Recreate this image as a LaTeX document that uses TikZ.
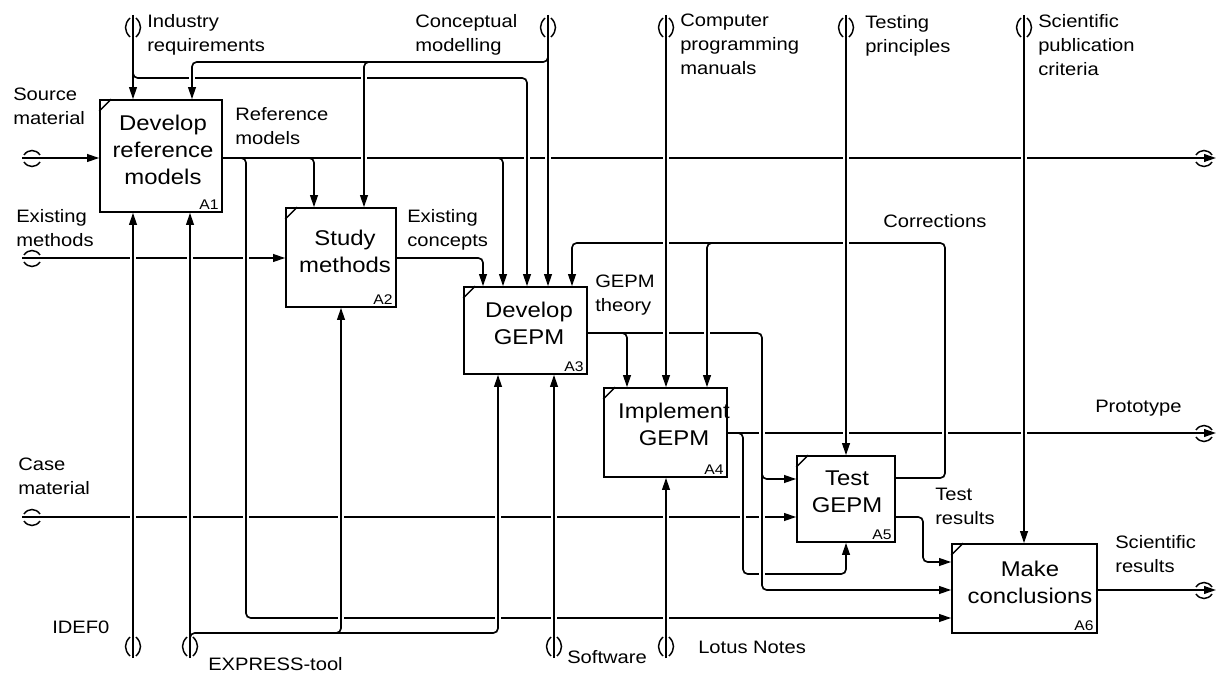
\documentclass[tikz,border=0pt]{standalone}
\usepackage{fontspec}
\setmainfont{Liberation Sans}[FakeStretch=1.12]
\usetikzlibrary{arrows.meta}
\tikzset{
  ln/.style={line width=1.25pt, rounded corners=3.5pt},
  conn/.style={ln, -{Triangle[length=9pt,width=5.8pt]}},
  box/.style={draw, line width=1.25pt, inner sep=0pt},
  boxtext/.style={font=\fontsize{16}{20.25}\selectfont, align=center, inner sep=0pt},
  lab/.style={font=\fontsize{13.5}{18}\selectfont, align=left, inner sep=0pt, anchor=north west},
  idlab/.style={font=\fontsize{10.5}{12}\selectfont, inner sep=0pt, anchor=south east},
  halo/.style={draw=white, line width=4.5pt},
  tun/.style={line width=1.1pt},
  tuntop/.pic={\draw[tun] (-3,3) .. controls (-9,9) and (-9,16) .. (-3,22); \draw[tun] (3,3) .. controls (9,9) and (9,16) .. (3,22);},
  tunbot/.pic={\draw[tun] (-3,-21) .. controls (-9,-15) and (-9,-8) .. (-3,-2); \draw[tun] (3,-21) .. controls (9,-15) and (9,-8) .. (3,-2);},
  tunleft/.pic={\draw[tun] (2,-3) .. controls (6,-9) and (14,-9) .. (18,-3); \draw[tun] (2,4) .. controls (6,10) and (14,10) .. (18,4);},
  tunright/.pic={\draw[tun] (-20,-3) .. controls (-16,-9) and (-8,-9) .. (-4,-3); \draw[tun] (-20,4) .. controls (-16,10) and (-8,10) .. (-4,4);},
}
\newcommand\vcross[3]{\draw[halo] (#1,#2) -- (#1,#3); \draw[ln] (#1,#2) -- (#1,#3);}
\begin{document}
\begin{tikzpicture}[x=0.75pt,y=-0.75pt]
\useasboundingbox (0,0) rectangle (1219,673);
% boxes
\node[box, minimum width=91.5pt, minimum height=84pt] (A1) at (161,156) {};
\node[box, minimum width=82.5pt, minimum height=74.25pt] (A2) at (341,257.5) {};
\node[box, minimum width=92.25pt, minimum height=65.25pt] (A3) at (525.5,330.5) {};
\node[box, minimum width=92.25pt, minimum height=66.75pt] (A4) at (665.5,432.5) {};
\node[box, minimum width=73.5pt, minimum height=64.5pt] (A5) at (846,499) {};
\node[box, minimum width=108.75pt, minimum height=66.75pt] (A6) at (1024.5,588.5) {};
\foreach \b in {A1,A2,A3,A4,A5,A6}{
  \draw[line width=1pt] (\b.north west) ++(0,12) -- ++(12,-12);
}
% free ends
\coordinate (sIR) at (133,15);
\coordinate (sCM) at (548,15);
\coordinate (sCP) at (666,15);
\coordinate (sTP) at (846,15);
\coordinate (sSP) at (1024,15);
\coordinate (sSM) at (22,158);
\coordinate (sEM) at (22,258);
\coordinate (sCA) at (22,517);
\coordinate (sID) at (133,658);
\coordinate (sEX) at (190,658);
\coordinate (sSW) at (554,658);
\coordinate (sLN) at (666,658);
\coordinate (oRM) at (1216,158);
\coordinate (oPR) at (1216,433);
\coordinate (oSR) at (1216,590);
% controls
\draw[conn] (sIR) -- (133,0 |- A1.north);
\draw[conn] (133,60) |- (527,78) -- (527,0 |- A3.north);
\draw[conn] (sCM) -- (548,0 |- A3.north);
\draw[conn] (548,50) |- (192,62) -- (192,0 |- A1.north);
\draw[conn] (375,62) -| (364,0 |- A2.north);
\draw[conn] (sCP) -- (666,0 |- A4.north);
\draw[conn] (sTP) -- (A5.north);
\draw[conn] (sSP) -- (1024,0 |- A6.north);
% inputs
\draw[conn] (sSM) -- (A1.west |- sSM);
\draw[conn] (sEM) -- (A2.west |- sEM);
\draw[conn] (sCA) -- (A5.west |- sCA);
% reference models
\draw[conn] (A1.east |- oRM) -- (oRM);
\draw[conn] (304,158) -| (314,0 |- A2.north);
\draw[conn] (493,158) -| (503,0 |- A3.north);
\draw[conn] (236,158) -| (246,618) -- (A6.west |- 0,618);
% existing concepts
\draw[conn] (A2.east |- 0,258) -| (483,0 |- A3.north);
% GEPM theory
\draw[conn] (A3.east |- 0,333) -| (762,590) -- (A6.west |- 0,590);
\draw[conn] (617,333) -| (627,0 |- A4.north);
\draw[conn] (762,468) |- (A5.west |- 0,479);
% prototype
\draw[conn] (A4.east |- oPR) -- (oPR);
\draw[conn] (735,433) -| (743,574) -| (A5.south);
% corrections
\draw[conn] (A5.east |- 0,478) -| (945,243) -| (572,0 |- A3.north);
\draw[conn] (717,243) -| (707,0 |- A4.north);
% test results
\draw[conn] (A5.east |- 0,517) -| (923,562) -- (A6.west |- 0,562);
% scientific results
\draw[conn] (A6.east |- oSR) -- (oSR);
% mechanisms
\draw[conn] (sID) -- (133,0 |- A1.south);
\draw[conn] (sEX) -- (190,0 |- A1.south);
\draw[conn] (190,645) |- (498,633) -- (498,0 |- A3.south);
\draw[conn] (330,633) -| (A2.south);
\draw[conn] (sSW) -- (554,0 |- A3.south);
\draw[conn] (sLN) -- (666,0 |- A4.south);
% crossings (vertical over horizontal)
\vcross{364}{72}{190}
\vcross{527}{90}{269}
\vcross{548}{100}{269}
\vcross{192}{69}{83}
\vcross{246}{170}{606}
\vcross{133}{230}{630}
\vcross{190}{230}{625}
\vcross{341}{325}{624}
\vcross{498}{392}{624}
\vcross{554}{392}{630}
\vcross{666}{495}{630}
\vcross{666}{45}{370}
\vcross{846}{45}{438}
\vcross{1024}{45}{526}
\vcross{762}{345}{466}
\vcross{762}{490}{580}
\vcross{743}{445}{562}
\vcross{945}{255}{466}
\vcross{707}{255}{370}
% tunnels
\foreach \p in {sIR,sCM,sCP,sTP,sSP}{\pic at (\p) {tuntop};}
\foreach \p in {sID,sEX,sSW,sLN}{\pic at (\p) {tunbot};}
\foreach \p in {sSM,sEM,sCA}{\pic at (\p) {tunleft};}
\foreach \p in {oRM,oPR,oSR}{\pic at (\p) {tunright};}
% box texts
\node[boxtext] (t1) at (163,150) {Develop\\reference\\models};
\node[boxtext] (t2) at (345,251) {Study\\methods};
\node[boxtext] (t3) at (529,323) {Develop\\GEPM};
\node[boxtext] (t4) at (674,424.5) {Implement\\GEPM};
\node[boxtext] (t5) at (847,491.5) {Test\\GEPM};
\node[boxtext] (t6) at (1030,582) {Make\\conclusions};
\foreach \b/\t in {A1/A1,A2/A2,A3/A3,A4/A4,A5/A5,A6/A6}{
  \node[idlab] (id\b) at ([shift={(-4,-3)}]\b.south east) {\t};
}
% labels
\node[lab] (lIR) at (147,14) {Industry\\requirements};
\node[lab] (lCM) at (415,14) {Conceptual\\modelling};
\node[lab] (lCP) at (680,14) {Computer\\programming\\manuals};
\node[lab] (lTP) at (865,15) {Testing\\principles};
\node[lab] (lSP) at (1038,14) {Scientific\\publication\\criteria};
\node[lab] (lSM) at (13,88) {Source\\material};
\node[lab] (lRM) at (235,107) {Reference\\models};
\node[lab] (lEM) at (16,209) {Existing\\methods};
\node[lab] (lEC) at (407,209) {Existing\\concepts};
\node[lab] (lGT) at (595,275) {GEPM\\theory};
\node[lab] (lCo) at (883,214) {Corrections};
\node[lab] (lPr) at (1095,400) {Prototype};
\node[lab] (lCa) at (18,458) {Case\\material};
\node[lab] (lTR) at (935,488) {Test\\results};
\node[lab] (lSR) at (1115,535) {Scientific\\results};
\node[lab] (lID) at (52,621) {IDEF0};
\node[lab] (lEX) at (208,657) {EXPRESS-tool};
\node[lab] (lSW) at (567,650) {Software};
\node[lab] (lLN) at (698,641) {Lotus Notes};
\end{tikzpicture}
\end{document}
